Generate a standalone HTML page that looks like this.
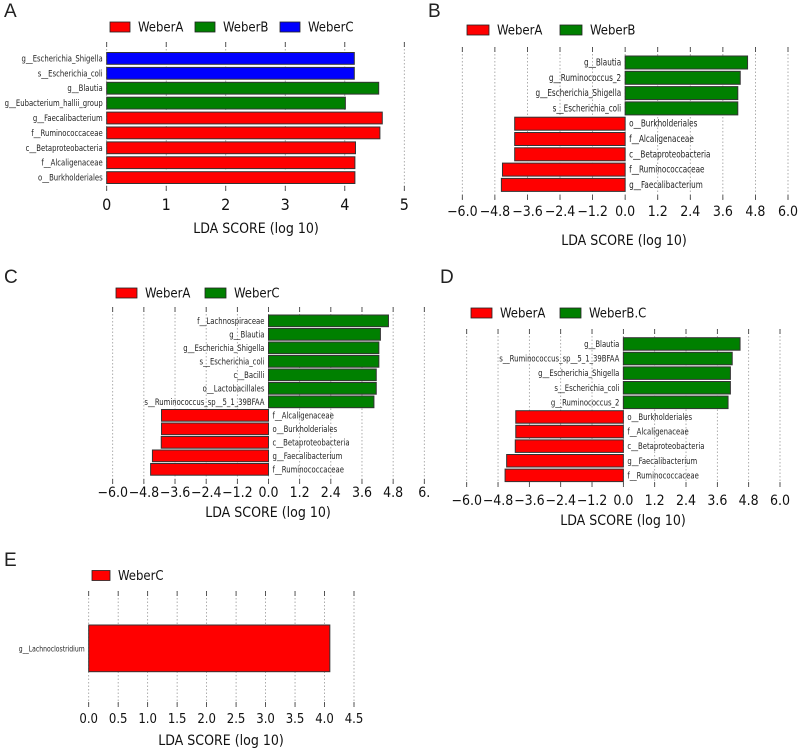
<!DOCTYPE html>
<html><head><meta charset="utf-8"><style>
html,body{margin:0;padding:0;background:#fff;}
svg{display:block;font-family:"DejaVu Sans Condensed","DejaVu Sans","Liberation Sans",sans-serif;}
</style></head><body>
<svg id="fig" width="800" height="752" viewBox="0 0 800 752" xmlns="http://www.w3.org/2000/svg"></svg>
<script>
// Panel A
const aLabels=["g__Escherichia_Shigella","s__Escherichia_coli","g__Blautia","g__Eubacterium_hallii_group","g__Faecalibacterium","f__Ruminococcaceae","c__Betaproteobacteria","f__Alcaligenaceae","o__Burkholderiales"];
const aValues=[4.16,4.16,4.57,4.01,4.63,4.59,4.18,4.17,4.17];
const aGroups=[2,2,1,1,0,0,0,0,0];
const aTicks=[0,1,2,3,4,5];
const aTickLabels=["0","1","2","3","4","5"];
const aLegend=["WeberA","WeberB","WeberC"];
// Panel B
const bLabels=["g__Blautia","g__Ruminococcus_2","g__Escherichia_Shigella","s__Escherichia_coli","o__Burkholderiales","f__Alcaligenaceae","c__Betaproteobacteria","f__Ruminococcaceae","g__Faecalibacterium"];
const bValues=[4.51,4.24,4.15,4.15,-4.07,-4.07,-4.07,-4.52,-4.56];
const bLegend=["WeberA","WeberB"];
// Panel C
const cLabels=["f__Lachnospiraceae","g__Blautia","g__Escherichia_Shigella","s__Escherichia_coli","c__Bacilli","o__Lactobacillales","s__Ruminococcus_sp__5_1_39BFAA","f__Alcaligenaceae","o__Burkholderiales","c__Betaproteobacteria","g__Faecalibacterium","f__Ruminococcaceae"];
const cValues=[4.62,4.31,4.25,4.25,4.15,4.15,4.06,-4.12,-4.12,-4.13,-4.47,-4.54];
const cLegend=["WeberA","WeberC"];
// Panel D
const dLabels=["g__Blautia","s__Ruminococcus_sp__5_1_39BFAA","g__Escherichia_Shigella","s__Escherichia_coli","g__Ruminococcus_2","o__Burkholderiales","f__Alcaligenaceae","c__Betaproteobacteria","g__Faecalibacterium","f__Ruminococcaceae"];
const dValues=[4.47,4.17,4.10,4.10,4.01,-4.12,-4.12,-4.14,-4.47,-4.53];
const dLegend=["WeberA","WeberB.C"];
// Panel E
const eLabels=["g__Lachnoclostridium"];
const eValues=[4.09];
const eLegend=["WeberC"];
const eTicks=[0,0.5,1,1.5,2,2.5,3,3.5,4,4.5];
const eTickLabels=["0.0","0.5","1.0","1.5","2.0","2.5","3.0","3.5","4.0","4.5"];
// shared signed ticks
const sTicks=[-6,-4.8,-3.6,-2.4,-1.2,0,1.2,2.4,3.6,4.8,6];
const sTickLabels=["\u22126.0","\u22124.8","\u22123.6","\u22122.4","\u22121.2","0.0","1.2","2.4","3.6","4.8","6.0"];
const sTickLabelsC=["\u22126.0","\u22124.8","\u22123.6","\u22122.4","\u22121.2","0.0","1.2","2.4","3.6","4.8","6."];

const NS="http://www.w3.org/2000/svg";
const svg=document.getElementById('fig');
function mk(tag,attrs,parent,text){const e=document.createElementNS(NS,tag);for(const k in attrs)e.setAttribute(k,attrs[k]);if(text!==undefined)e.textContent=text;(parent||svg).appendChild(e);return e;}
const COL=["#ff0000","#008000","#0000ff"];

function panel(o){
  const g=mk('g',{});
  
  
  const L=mk('text',{x:o.letter[0],y:o.letter[1],'font-size':19,fill:'#222','font-family':'Liberation Sans, sans-serif'},g,o.id.toUpperCase());
  
  
  const sx=v=>o.x0+(v-o.d0)*(o.x1-o.x0)/(o.d1-o.d0);
  o.ticks.forEach((t,i)=>{
    const x=sx(t);
    const gl=mk('line',{x1:x,x2:x,y1:o.gTop,y2:o.gBot,stroke:'#999','stroke-width':0.8,'stroke-dasharray':'1.5,2'},g);
    
    
    mk('line',{x1:x,x2:x,y1:o.gTop,y2:o.gTop+5,stroke:'#333','stroke-width':0.8},g);
    mk('line',{x1:x,x2:x,y1:o.gBot-5,y2:o.gBot,stroke:'#333','stroke-width':0.8},g);
    const tl=mk('text',{x:x,y:o.tickY,'font-size':o.tickFs,'text-anchor':'middle',fill:'#111'},g,o.tickLabels[i]);
    
    
  });
  const ti=mk('text',{x:o.titleX,y:o.titleY,'font-size':14,'text-anchor':'middle',fill:'#111'},g,'LDA SCORE (log 10)');
  
  
  o.legend.forEach((name,i)=>{
    const lx=o.legX[i];
    const lg=mk('g',{},g);
    
    
    mk('rect',{x:lx,y:o.legY-5,width:o.legW,height:10,fill:o.legCol[i],stroke:'#222','stroke-width':0.8},lg);
    mk('text',{x:lx+o.legW+8,y:o.legY+4.5,'font-size':13,fill:'#111'},lg,name);
  });
  o.values.forEach((v,i)=>{
    const y=o.barY0+i*o.step;
    const xa=sx(Math.min(0,v)), xb=sx(Math.max(0,v));
    const col=o.groups?COL[o.groups[i]]:(v<0?COL[0]:COL[1]);
    const r=mk('rect',{x:xa,y:y,width:xb-xa,height:o.barH,fill:col,stroke:'#333','stroke-width':1},g);
    
    
    const pos=o.groups||v>=0;
    const lx=pos?sx(0)-4:sx(0)+4;
    const tg=mk('g',{transform:'translate('+lx+','+(y+o.barH/2+3)+') scale(0.85,1)'},g);
    const t=mk('text',{x:0,y:0,'font-size':o.lblFs,'text-anchor':pos?'end':'start',fill:'#222'},tg,o.labels[i]);
    
    
  });
}

panel({id:'a',letter:[4,17],x0:106.7,x1:404.3,d0:0,d1:5,ticks:aTicks,tickLabels:aTickLabels,tickFs:16,tickY:210,
  gTop:42,gBot:191,titleX:256,titleY:233,legend:aLegend,legX:[110,195,280],legW:20,legY:27,legCol:COL,
  values:aValues,labels:aLabels,groups:aGroups,barY0:52.5,step:14.9,barH:11.8,lblFs:9});
panel({id:'b',letter:[428,17],x0:462.3,x1:788,d0:-6,d1:6,ticks:sTicks,tickLabels:sTickLabels,tickFs:14,tickY:216,
  gTop:47,gBot:200,titleX:624,titleY:245,legend:bLegend,legX:[467,560],legW:22,legY:30,legCol:[COL[0],COL[1]],
  values:bValues,labels:bLabels,barY0:56,step:15.3,barH:13,lblFs:9.5});
panel({id:'c',letter:[4,283],x0:112.7,x1:424.3,d0:-6,d1:6,ticks:sTicks,tickLabels:sTickLabelsC,tickFs:14,tickY:497,
  gTop:307,gBot:484,titleX:268,titleY:517,legend:cLegend,legX:[116,205],legW:21,legY:293,legCol:[COL[0],COL[1]],
  values:cValues,labels:cLabels,barY0:315,step:13.5,barH:11.7,lblFs:9});
panel({id:'d',letter:[440,283],x0:466.7,x1:780,d0:-6,d1:6,ticks:sTicks,tickLabels:sTickLabels,tickFs:14,tickY:505,
  gTop:329,gBot:487,titleX:623,titleY:525,legend:dLegend,legX:[471,560],legW:21,legY:313,legCol:[COL[0],COL[1]],
  values:dValues,labels:dLabels,barY0:337.7,step:14.6,barH:12.5,lblFs:9});
panel({id:'e',letter:[4,566],x0:88.7,x1:354,d0:0,d1:4.5,ticks:eTicks,tickLabels:eTickLabels,tickFs:13,tickY:723,
  gTop:591,gBot:707,titleX:221,titleY:745,legend:eLegend,legX:[92],legW:18,legY:575.5,legCol:[COL[0]],
  values:eValues,labels:eLabels,groups:[0],barY0:625,step:47,barH:46.7,lblFs:8});
</script>
</body></html>
